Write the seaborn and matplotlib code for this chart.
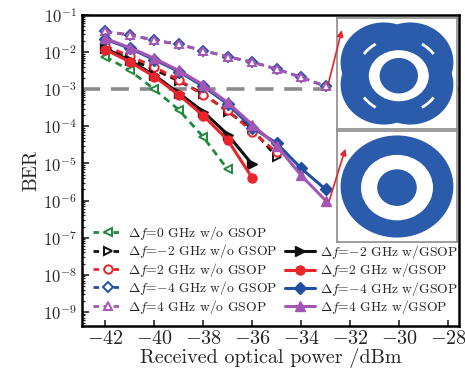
import matplotlib
matplotlib.use("Agg")
import matplotlib.pyplot as plt
import seaborn as sns
from matplotlib.patches import Circle, Ellipse, Arc
from matplotlib.lines import Line2D

# received optical power (dBm) and BER for each curve
power_0_wo = [-42, -41, -40, -39, -38, -37]
ber_0_wo = [7.6e-3, 3.2e-3, 1.0e-3, 2.8e-4, 5.2e-5, 6.9e-6]

power_m2_wo = [-42, -41, -40, -39, -38, -37, -36, -35]
ber_m2_wo = [1.35e-2, 6.6e-3, 3.4e-3, 1.66e-3, 7.6e-4, 2.5e-4, 8.5e-5, 1.5e-5]

power_p2_wo = [-42, -41, -40, -39, -38, -37, -36, -35]
ber_p2_wo = [1.45e-2, 7.9e-3, 4.0e-3, 1.8e-3, 6.9e-4, 2.7e-4, 7.2e-5, 2.0e-5]

power_m4_wo = [-42, -41, -40, -39, -38, -37, -36, -35, -34, -33]
ber_m4_wo = [3.6e-2, 2.9e-2, 2.1e-2, 1.62e-2, 1.1e-2, 7.5e-3, 5.4e-3, 3.5e-3, 2.1e-3, 1.2e-3]

power_p4_wo = [-42, -41, -40, -39, -38, -37, -36, -35, -34, -33]
ber_p4_wo = [3.6e-2, 2.9e-2, 2.1e-2, 1.62e-2, 1.1e-2, 7.5e-3, 5.4e-3, 3.5e-3, 2.1e-3, 1.2e-3]

power_m2_w = [-42, -41, -40, -39, -38, -37, -36]
ber_m2_w = [1.26e-2, 6.0e-3, 2.4e-3, 7.9e-4, 2.5e-4, 6.0e-5, 9.5e-6]

power_p2_w = [-42, -41, -40, -39, -38, -37, -36]
ber_p2_w = [1.17e-2, 5.5e-3, 2.2e-3, 7.1e-4, 1.95e-4, 4.3e-5, 4.1e-6]

power_m4_w = [-42, -41, -40, -39, -38, -37, -36, -35, -34, -33]
ber_m4_w = [2.24e-2, 1.26e-2, 6.3e-3, 3.0e-3, 1.2e-3, 4.0e-4, 9.3e-5, 3.5e-5, 7.4e-6, 2.0e-6]

power_p4_w = [-42, -41, -40, -39, -38, -37, -36, -35, -34, -33]
ber_p4_w = [2.34e-2, 1.32e-2, 6.8e-3, 3.2e-3, 1.32e-3, 4.4e-4, 1.12e-4, 3.0e-5, 4.8e-6, 1.0e-6]

fec_limit = 1e-3
x_ticks = [-42, -40, -38, -36, -34, -32, -30, -28]

labels_wo = [r'$\Delta f$=0 GHz w/o GSOP', r'$\Delta f$=$-$2 GHz w/o GSOP',
             r'$\Delta f$=2 GHz w/o GSOP', r'$\Delta f$=$-$4 GHz w/o GSOP',
             r'$\Delta f$=4 GHz w/o GSOP']
labels_w = [r'$\Delta f$=$-$2 GHz w/GSOP', r'$\Delta f$=2 GHz w/GSOP',
            r'$\Delta f$=$-$4 GHz w/GSOP', r'$\Delta f$=4 GHz w/GSOP']

GREEN = '#1e8a3c'
BLACK = '#111111'
RED = '#e8252b'
BLUE = '#2150a3'
PURPLE = '#a556b4'
CONST = '#2b5cab'

sns.set_style('ticks')
plt.rcParams['font.family'] = ['cmr10', 'DejaVu Serif']
plt.rcParams['mathtext.fontset'] = 'cm'
plt.rcParams['axes.formatter.use_mathtext'] = True
plt.rcParams['xtick.direction'] = 'in'
plt.rcParams['ytick.direction'] = 'in'

fig = plt.figure(figsize=(4.65, 3.76), dpi=100)
ax = fig.add_axes([82 / 465, 1 - 326 / 376, 377 / 465, 311 / 376])

# FEC threshold line
ax.axhline(fec_limit, color='#8a8a8a', lw=2.6, dashes=(5, 3), zorder=1)

dashed = [
    (power_0_wo, ber_0_wo, GREEN, '<'),
    (power_m2_wo, ber_m2_wo, BLACK, '>'),
    (power_p2_wo, ber_p2_wo, RED, 'o'),
    (power_m4_wo, ber_m4_wo, BLUE, 'D'),
    (power_p4_wo, ber_p4_wo, PURPLE, '^'),
]
solid = [
    (power_m2_w, ber_m2_w, BLACK, '>'),
    (power_p2_w, ber_p2_w, RED, 'o'),
    (power_m4_w, ber_m4_w, BLUE, 'D'),
    (power_p4_w, ber_p4_w, PURPLE, '^'),
]

handles_wo = []
for px, py, c, m in dashed:
    ms = 5.5 if m == 'D' else 6
    sns.lineplot(x=px, y=py, ax=ax, color=c, lw=2.0, dashes=False,
                 linestyle=(0, (2.5, 1.8)), marker=m, markersize=ms,
                 markerfacecolor='white', markeredgecolor=c,
                 markeredgewidth=1.4, zorder=3)
    handles_wo.append(Line2D([], [], color=c, lw=2.0, linestyle=(0, (2.0, 1.6)),
                             marker=m, markersize=ms, markerfacecolor='white',
                             markeredgecolor=c, markeredgewidth=1.4))

handles_w = []
for px, py, c, m in solid:
    ms = 6 if m == 'D' else 6.5
    sns.lineplot(x=px, y=py, ax=ax, color=c, lw=2.2, marker=m, markersize=ms,
                 markerfacecolor=c, markeredgecolor=c, markeredgewidth=1.0,
                 zorder=4)
    handles_w.append(Line2D([], [], color=c, lw=2.2, marker=m, markersize=ms,
                            markerfacecolor=c, markeredgecolor=c))

ax.set_yscale('log')
ax.set_ylim(10 ** -9.38, 1e-1)
ax.set_xlim(-42.95, -27.55)
ax.set_xticks(x_ticks)
ax.set_yticks([10.0 ** -k for k in range(1, 10)])
ax.tick_params(axis='x', labelsize=14.5, length=4, width=1.2, pad=3)
ax.tick_params(axis='y', which='major', labelsize=12, length=5, width=1.2)
ax.tick_params(axis='y', which='minor', length=2.5, width=0.9)
for s in ax.spines.values():
    s.set_linewidth(1.8)
    s.set_color('black')
ax.set_xlabel('Received optical power /dBm', fontsize=14.5, labelpad=0)
ax.set_ylabel('BER', fontsize=14, labelpad=2)

# two legend columns placed separately
leg_kw = dict(frameon=False, loc='upper left', borderaxespad=0, borderpad=0,
              fontsize=9.8, handlelength=2.2, handletextpad=0.35,
              labelspacing=0.03, bbox_transform=fig.transFigure)
leg1 = ax.legend(handles_wo, labels_wo,
                 bbox_to_anchor=(93 / 465, 1 - 224 / 376), **leg_kw)
ax.add_artist(leg1)
ax.legend(handles_w, labels_w,
          bbox_to_anchor=(285 / 465, 1 - 243 / 376), **leg_kw)

# constellation insets
ins_top = fig.add_axes([337 / 465, 1 - 129 / 376, 120 / 465, 111 / 376])
ins_bot = fig.add_axes([337 / 465, 1 - 242 / 376, 120 / 465, 111 / 376])
for ia in (ins_top, ins_bot):
    ia.set_xlim(-1, 1)
    ia.set_ylim(-1, 1)
    ia.set_xticks([])
    ia.set_yticks([])
    ia.set_facecolor('white')
    for s in ia.spines.values():
        s.set_color('#8c8c8c')
        s.set_linewidth(1.2)

for cx in (-0.22, 0.22):
    for cy in (-0.2, 0.2):
        ins_top.add_patch(Circle((cx, cy), 0.72, color=CONST, lw=0))
ins_top.add_patch(Ellipse((0.03, -0.04), 1.0, 0.92, color='white', lw=0))
ins_top.add_patch(Circle((0.03, -0.04), 0.32, color=CONST, lw=0))
for ang in (45, 135, 225, 315):
    ins_top.add_patch(Arc((0.03, -0.04), 1.42, 1.36, theta1=ang - 11,
                          theta2=ang + 11, color='white', lw=2.0))

ins_bot.add_patch(Ellipse((0, 0), 1.88, 1.84, color=CONST, lw=0))
ins_bot.add_patch(Ellipse((0.0, -0.02), 1.2, 1.18, color='white', lw=0))
ins_bot.add_patch(Ellipse((0.0, -0.02), 0.66, 0.66, color=CONST, lw=0))

arrow = dict(arrowstyle='-|>', color=RED, lw=1.2, mutation_scale=9,
             shrinkA=0, shrinkB=0)
ins_top.annotate('', xy=(0.04, 0.89), xycoords='axes fraction',
                 xytext=(-32.9, 1.3e-3), textcoords=ax.transData,
                 arrowprops=arrow, annotation_clip=False)
ins_bot.annotate('', xy=(0.07, 0.84), xycoords='axes fraction',
                 xytext=(-32.85, 1.0e-6), textcoords=ax.transData,
                 arrowprops=arrow, annotation_clip=False)

fig.savefig('out.png', dpi=100)
plt.close(fig)
